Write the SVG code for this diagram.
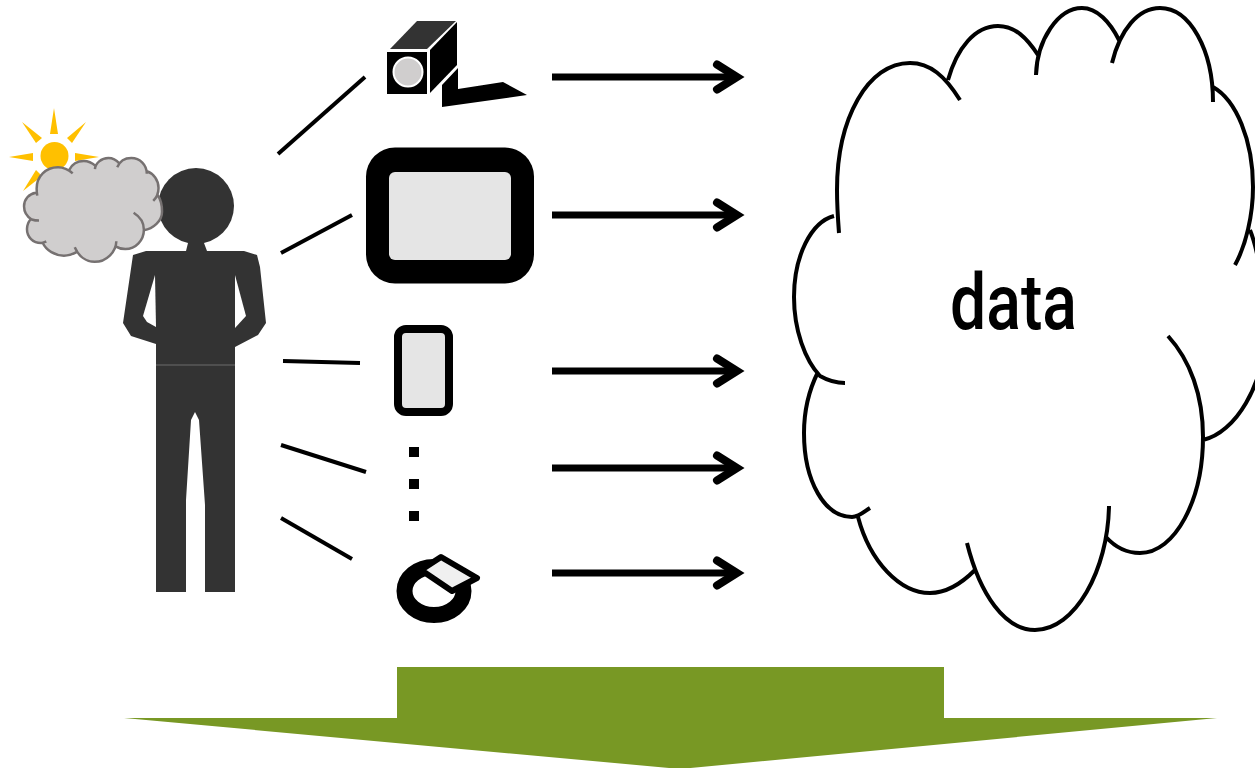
<svg xmlns="http://www.w3.org/2000/svg" xmlns:xlink="http://www.w3.org/1999/xlink" width="1255" height="768" viewBox="0 0 1255 768">
<style>
.ln{fill:none;stroke:#000;stroke-width:4}
.arr{fill:none;stroke:#000;stroke-width:7;marker-end:url(#head)}
.dark{fill:#333}
.light{fill:#e5e5e5}
.blk{fill:#000}
.sun{fill:#ffc000}
</style>
<defs>
<marker id="head" markerUnits="userSpaceOnUse" markerWidth="34" markerHeight="34" refX="26" refY="17" orient="auto" overflow="visible">
<path d="M6,4.500 L26,17 L6,29.500" fill="none" stroke="#000" stroke-width="8" stroke-linecap="round" stroke-linejoin="miter"/>
</marker>
<path id="cloudFill" d="M839,216C837,120 868,63 910,63C925,63 938,70 948,80C957,48 975,26 998,26C1015,26 1027,38 1038,55C1045,28 1060,8 1082,8C1097,8 1110,22 1119,40C1130,20 1145,8 1160,8C1190,8 1213,50 1213,87C1236,100 1253,140 1253,187L1250,230C1258,250 1265,290 1265,330C1265,385 1235,433 1203,440C1200,500 1175,553 1140,553C1127,553 1115,547 1106,537C1098,590 1068,630 1035,630C1005,630 985,600 975,570C963,582 948,593 930,593C900,593 870,562 858,517C825,517 804,482 804,433C804,410 809,390 818,372C805,360 794,330 794,297C794,256 811,222 839,216Z"/>
<path id="cloudArcs" fill="none" vector-effect="non-scaling-stroke" d="M960,100C945,76 930,63 910,63C868,63 837,118 837,190C837,205 838,220 839,233M834,216C811,222 794,256 794,297C794,330 805,360 820,376C827,380 836,383 845,383M818,372C809,390 804,410 804,433C804,482 825,517 852,517C859,517 865,511 870,508M858,517C870,562 900,593 930,593C948,593 963,582 975,570M967,543C980,595 1005,630 1035,630C1075,630 1108,570 1109,506M1106,537C1115,547 1127,553 1140,553C1175,553 1203,500 1203,437C1203,395 1190,360 1168,336M1203,440C1235,433 1265,385 1265,330C1265,290 1258,250 1250,230M1213,87C1236,100 1253,140 1253,187C1253,215 1246,245 1235,265M1213,102C1213,50 1190,8 1160,8C1138,8 1120,30 1112,63M1119,40C1110,22 1097,8 1082,8C1058,8 1037,40 1036,75M1038,55C1027,38 1015,26 998,26C975,26 957,48 948,80"/>
</defs>
<g id="sun">
<circle class="sun" cx="54.500" cy="156" r="14"/>
<polygon class="sun" points="54,108 50,134 58,134"/>
<polygon class="sun" points="9,157 33,153 33,161"/>
<polygon class="sun" points="99,157 75,153 75,161"/>
<polygon class="sun" points="22,122 42,138 36,143"/>
<polygon class="sun" points="86,122 67,138 72,143"/>
<polygon class="sun" points="23,191 36,170 42,176"/>
</g>
<g id="person">
<circle class="dark" cx="196" cy="206" r="38"/>
<polygon class="dark" points="188,243 186,251 146,251 133,255 123,323 131,336 156,344 156,592 186,592 186,500 191,420 195,412 199,420 205,505 205,592 235,592 235,347 258,335 266,323 260,267 257,255 244,251 207,251 204,243"/>
<polygon fill="#fff" points="155,275 143,316 147,322 156,327"/>
<polygon fill="#fff" points="235,275 246,316 235,328"/>
<line x1="156" y1="365" x2="235" y2="365" stroke="#5a5a5a" stroke-width="1.500"/>
</g>
<g id="small-cloud" transform="matrix(0.293 0 0 0.167 -208.600 156.660)">
<use xlink:href="#cloudFill" fill="#d0cece"/>
<use xlink:href="#cloudArcs" stroke="#767171" stroke-width="2.500"/>
</g>
<g id="camera">
<rect class="blk" x="387" y="52" width="40" height="42"/>
<circle cx="408" cy="72" r="14.500" fill="#d0cece" stroke="#fff" stroke-width="2"/>
<polygon class="dark" points="390,49 417,21 456,21 427,49"/>
<polygon class="blk" points="430,50 457,22 457,65 430,93"/>
<polygon class="blk" points="442,85 458,68 458,89 503,82 527,95 442,107"/>
</g>
<g id="tablet">
<rect class="blk" x="366" y="147.500" width="168" height="136" rx="29"/>
<rect class="light" x="389" y="172" width="122" height="88" rx="6"/>
</g>
<g id="phone">
<rect class="light" x="398" y="329" width="51" height="83" rx="8" stroke="#000" stroke-width="8"/>
</g>
<g id="dots">
<rect class="blk" x="409" y="447" width="10" height="10"/>
<rect class="blk" x="409" y="479" width="10" height="10"/>
<rect class="blk" x="409" y="511" width="10" height="10"/>
</g>
<g id="sensor">
<ellipse cx="434" cy="591" rx="29.500" ry="24" fill="#fff" stroke="#000" stroke-width="16"/>
<polygon points="441,557 477,578 452,591 421,570" fill="#f0f0f0" stroke="#000" stroke-width="6" stroke-linejoin="round"/>
</g>
<g id="connectors">
<line class="ln" x1="278" y1="154" x2="365" y2="77"/>
<line class="ln" x1="281" y1="253" x2="352" y2="215"/>
<line class="ln" x1="283" y1="361" x2="360" y2="363"/>
<line class="ln" x1="281" y1="445" x2="366" y2="472"/>
<line class="ln" x1="281" y1="518" x2="352" y2="559"/>
<line class="arr" x1="552" y1="77" x2="737" y2="77"/>
<line class="arr" x1="552" y1="215" x2="737" y2="215"/>
<line class="arr" x1="552" y1="371" x2="737" y2="371"/>
<line class="arr" x1="552" y1="468" x2="737" y2="468"/>
<line class="arr" x1="552" y1="573" x2="737" y2="573"/>
</g>
<g id="data-cloud">
<use xlink:href="#cloudArcs" stroke="#000" stroke-width="4"/>
<text x="950" y="329" font-family="Roboto, sans-serif" font-size="78" font-weight="500" textLength="127" lengthAdjust="spacingAndGlyphs" fill="#000">data</text>
</g>
<g id="big-arrow">
<polygon fill="#789824" points="397,667 944,667 944,718 1217,718 680,769 124,718 397,718"/>
</g>
</svg>
